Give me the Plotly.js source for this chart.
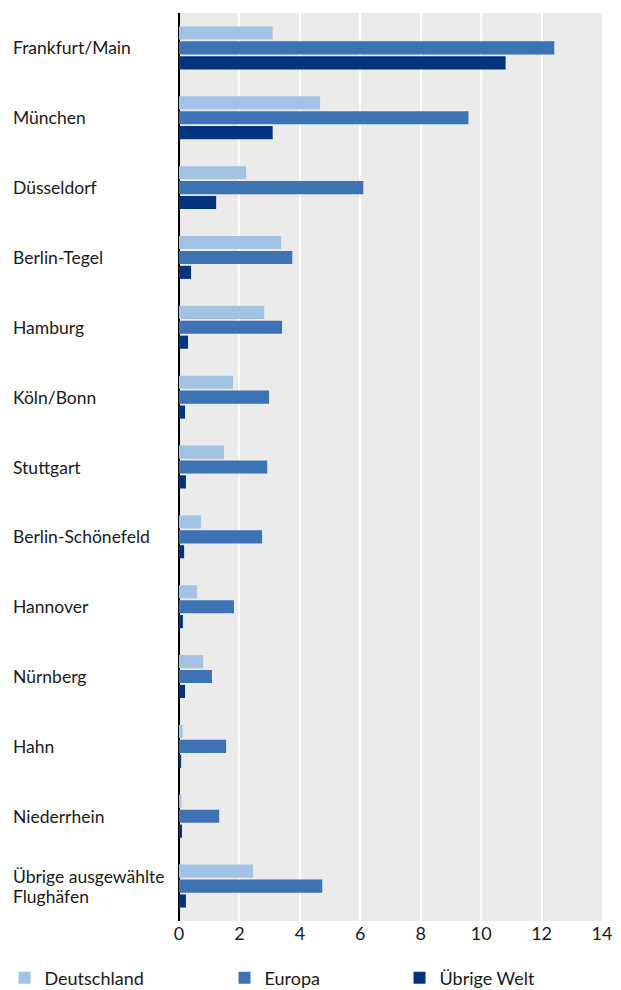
<!DOCTYPE html>
<html>
<head>
<meta charset="utf-8">
<script src="https://cdn.plot.ly/plotly-3.0.1.min.js"></script>
<style>html,body{margin:0;padding:0;background:#fff;}#chart{width:621px;height:990px;}</style>
</head>
<body>
<div id="chart"></div>
<script>
const categories = ["Frankfurt/Main","München","Düsseldorf","Berlin-Tegel","Hamburg","Köln/Bonn","Stuttgart","Berlin-Schönefeld","Hannover","Nürnberg","Hahn","Niederrhein","Übrige ausgewählte<br>Flughäfen"];
const deutschland = [3.10,4.67,2.22,3.38,2.82,1.79,1.49,0.73,0.60,0.80,0.12,0.08,2.45];
const europa      = [12.42,9.58,6.10,3.75,3.41,2.98,2.92,2.75,1.82,1.09,1.56,1.33,4.74];
const uebrigeWelt = [10.81,3.10,1.23,0.40,0.30,0.20,0.23,0.17,0.13,0.20,0.07,0.10,0.23];
const seriesNames = ["Deutschland","Europa","Übrige Welt"];
const colors = ["#A3C3E5","#3D73B4","#03357F"];
const xTicks = [0,2,4,6,8,10,12,14];

const FONT = "Lato, 'Open Sans', sans-serif";
const values = [deutschland, europa, uebrigeWelt];
const legendIds = ["legend","legend2","legend3"];
const traces = values.map((v,i)=>({
  type:"bar", orientation:"h", name:seriesNames[i], x:v, y:categories,
  marker:{color:colors[i]}, legend:legendIds[i], hoverinfo:"x+name"
}));

const annotations = categories.map(c=>({
  xref:"paper", yref:"y", x:-0.397, y:c, xanchor:"left", yanchor:"middle",
  align:"left", showarrow:false,
  text:'<span style="font-size:17.5px">'+c+'</span>',
  font:{family:FONT, size:15, color:"#1a1a1a"}
}));

const legBase = {orientation:"h", yanchor:"middle", y:-0.0628, xanchor:"left",
  font:{family:FONT, size:18, color:"#1a1a1a"}, bgcolor:"rgba(0,0,0,0)"};

const layout = {
  width:621, height:990,
  margin:{l:179, r:19, t:13, b:69, autoexpand:false},
  paper_bgcolor:"#ffffff", plot_bgcolor:"#EBEBEB",
  barmode:"group", bargap:0.36, bargroupgap:0.12,
  font:{family:FONT, size:18, color:"#1a1a1a"},
  xaxis:{range:[0,14], tickvals:xTicks, ticktext:xTicks.map(String),
    showgrid:true, gridcolor:"#ffffff", gridwidth:2,
    zeroline:true, zerolinecolor:"#000000", zerolinewidth:2,
    ticks:"", showline:false, tickfont:{family:FONT, size:18, color:"#1a1a1a"}},
  yaxis:{autorange:"reversed", showticklabels:false, showgrid:false, ticks:"", zeroline:false, showline:false},
  annotations:annotations,
  legend:Object.assign({x:-0.4125}, legBase),
  legend2:Object.assign({x:0.1076}, legBase),
  legend3:Object.assign({x:0.5213}, legBase),
  showlegend:true
};
Plotly.newPlot("chart", traces, layout, {displayModeBar:false, staticPlot:true});
</script>
</body>
</html>
